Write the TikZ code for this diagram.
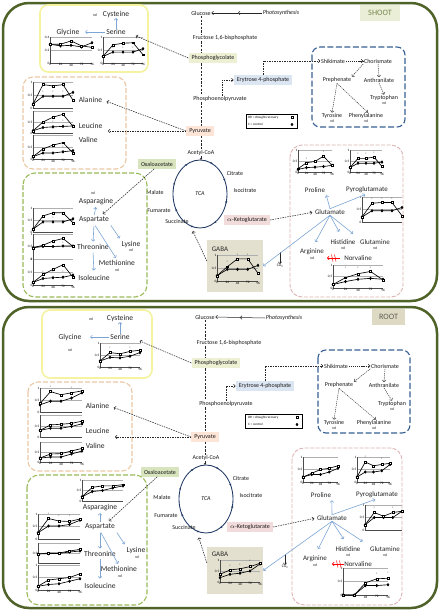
\documentclass[tikz,border=0pt]{standalone}
\usepackage{fontspec}
\setmainfont{Carlito}
\usetikzlibrary{arrows.meta,decorations.markings,plotmarks,calc}
\definecolor{panelc}{RGB}{79,98,40}
\definecolor{shootfill}{RGB}{235,238,215}
\definecolor{shoottxt}{RGB}{118,135,80}
\definecolor{rootfill}{RGB}{221,217,195}
\definecolor{roottxt}{RGB}{95,95,85}
\definecolor{pgfill}{RGB}{238,240,212}
\definecolor{e4fill}{RGB}{220,230,242}
\definecolor{pyfill}{RGB}{252,228,214}
\definecolor{oxfill}{RGB}{215,228,189}
\definecolor{akfill}{RGB}{242,220,219}
\definecolor{gabafill}{RGB}{228,224,208}
\definecolor{yboxc}{RGB}{245,242,160}
\definecolor{oboxc}{RGB}{236,200,165}
\definecolor{gboxc}{RGB}{155,187,89}
\definecolor{pboxc}{RGB}{222,180,180}
\definecolor{bboxc}{RGB}{55,96,146}
\definecolor{arrblue}{RGB}{125,165,212}
\definecolor{tcac}{RGB}{31,56,100}
\definecolor{grdc}{RGB}{175,175,175}
\newcommand\fsm{\fontsize{6}{6.8}\selectfont}
\newcommand\faa{\fontsize{7}{7.8}\selectfont}
\newcommand\fab{\fontsize{7.6}{8.6}\selectfont}
\newcommand\fnd{\fontsize{3.8}{4.2}\selectfont}
\newcommand\ftk{\fontsize{3.4}{3.8}\selectfont}
\newcommand\ftag{\fontsize{8.2}{9}\selectfont}
\newcommand\flg{\fontsize{3.3}{3.7}\selectfont}
\newcommand\mchart[7]{%
  \pgfmathsetmacro\mcxu{#3/96}%
  \begin{scope}[shift={(#1,#2)},x=\mcxu pt,y=#4pt]
    \draw[grd] (0,0.5) -- (96,0.5) (0,1) -- (96,1);
    \draw[axl] (0,1) -- (0,0) -- (96,0);
    \draw[cl] plot coordinates {#6};
    \draw[drl] plot coordinates {#5};
    #7
  \end{scope}}
\newcommand\xlab{\foreach \xv in {0,24,48,72,96}{\node[tk,anchor=north] at (\xv,0) {\xv};}}
\newcommand\ylab[2]{\node[tk,anchor=east] at (0,#1) {#2};}
\newcommand\ystd{\ylab{1}{1}\ylab{0.5}{0.5}\ylab{0}{0}}
\newcommand\astk[2]{\node[astn] at (#1,#2) {*};}
\tikzset{
  >={Straight Barb[length=1.7pt,width=3.6pt]},
  panel/.style={draw=panelc, line width=2.5pt, rounded corners=26pt},
  tagbox/.style={font=\ftag, inner sep=0pt, minimum height=16pt},
  lbl/.style={font=\fsm, inner sep=0.6pt, text=black!90},
  itl/.style={font=\fsm\itshape},
  aa/.style={font=\faa, inner sep=0.6pt, text=black!85},
  aab/.style={font=\fab, inner sep=0.6pt, text=black!85},
  nd/.style={font=\fnd, inner sep=0pt, text=black!85},
  tk/.style={font=\ftk, inner sep=0.5pt},
  astn/.style={font=\ftk, inner sep=0pt},
  lg/.style={font=\flg, inner sep=0pt},
  boxn/.style={font=\fsm, text=black!90, inner xsep=3pt, inner ysep=2.5pt},
  grd/.style={draw=grdc, line width=0.35pt},
  axl/.style={draw=black!70, line width=0.4pt},
  drl/.style={line width=0.65pt, mark=square*, mark size=0.95pt, mark options={fill=white, line width=0.35pt}},
  cl/.style={line width=0.65pt, mark=diamond*, mark size=1.2pt, mark options={fill=black}},
  vline/.style={dash pattern=on 2.2pt off 1.4pt, line width=0.95pt, black!85},
  dline/.style={dash pattern=on 1.5pt off 1pt, line width=0.55pt, black!85, ->},
  dsm/.style={dash pattern=on 1.2pt off 0.9pt, line width=0.45pt, black!85, ->},
  barr/.style={line width=0.6pt, arrblue, ->},
  parr/.style={line width=0.5pt, black!85, ->},
  redar/.style={line width=0.6pt, red, ->},
  ybx/.style={draw=yboxc, line width=1.6pt, rounded corners=8pt},
  obx/.style={draw=oboxc, line width=1.1pt, dash pattern=on 5pt off 2pt, rounded corners=10pt},
  gbx/.style={draw=gboxc, line width=1.1pt, dash pattern=on 5pt off 2pt, rounded corners=12pt},
  pbx/.style={draw=pboxc, line width=0.9pt, dash pattern=on 4pt off 1.5pt, rounded corners=12pt},
  bbx/.style={draw=bboxc, line width=1.1pt, dash pattern=on 6pt off 2.5pt, rounded corners=8pt},
  gabab/.style={fill=gabafill, inner sep=0pt},
  legbox/.style={draw=black, line width=0.4pt, inner sep=0pt, fill=white},
  co/.style={font=\fnd, inner sep=0.3pt},
  tcal/.style={draw=tcac, line width=0.85pt, postaction={decorate},
    decoration={markings,
      mark=at position 0.05 with {\arrow{Stealth[length=2.2pt,width=2.2pt]}},
      mark=at position 0.17 with {\arrow{Stealth[length=2.2pt,width=2.2pt]}},
      mark=at position 0.3 with {\arrow{Stealth[length=2.2pt,width=2.2pt]}},
      mark=at position 0.42 with {\arrow{Stealth[length=2.2pt,width=2.2pt]}},
      mark=at position 0.56 with {\arrow{Stealth[length=2.2pt,width=2.2pt]}},
      mark=at position 0.68 with {\arrow{Stealth[length=2.2pt,width=2.2pt]}},
      mark=at position 0.82 with {\arrow{Stealth[length=2.2pt,width=2.2pt]}},
      mark=at position 0.93 with {\arrow{Stealth[length=2.2pt,width=2.2pt]}}}},
}
\begin{document}
\begin{tikzpicture}[x=1pt,y=-1pt]
\useasboundingbox (0,0) rectangle (440,611);
\fill[white] (0,0) rectangle (440,611);

%================ SHOOT ================
\draw[panel] (3,3) rectangle (437,301);
\node[tagbox, fill=shootfill, text=shoottxt, minimum width=40pt] (stag) at (380,12.5) {SHOOT};
\node[lbl] (sglu) at (201,13) {Glucose};
\node[lbl,itl] (sphoto) at (281,13) {Photosynthesis};
\coordinate (sphm) at (238,13);
\draw[parr] (sphoto.west) -- (sphm);
\draw[parr] (sphm) -- (sglu.east);
\node[lbl] (sfru) at (225,38) {Fructose 1,6-bisphosphate};
\node[boxn, fill=pgfill] (spgly) at (213,58) {Phosphoglycolate};
\node[boxn, fill=e4fill] (se4p) at (263,80) {Erytrose 4-phosphate};
\node[lbl] (spep) at (220,99) {Phosphoenolpyruvate};
\node[boxn, fill=pyfill] (spyr) at (200,131) {Pyruvate};
\node[lbl] (sacoa) at (201,153) {Acetyl-CoA};
\coordinate (sv) at (201,0);
\coordinate (stcatop) at (201,160);
\draw[vline] (sv |- sglu.south) -- (sv |- sfru.north);
\draw[vline] (sv |- sfru.south) -- (sv |- spgly.north);
\draw[vline] (sv |- spgly.south) -- (sv |- spep.north);
\draw[vline] (sv |- spep.south) -- (sv |- spyr.north);
\draw[vline] (sv |- spyr.south) -- (sv |- sacoa.north);
\draw[vline, -{Stealth[length=2pt,width=2.4pt]}] (sv |- sacoa.south) -- (stcatop);
\coordinate (se4x) at (222,0);
\draw[dline] (se4x |- spep.north) |- (se4p.west);
% TCA
\coordinate (stc) at (200,194);
\draw[tcal] (stc) ellipse [x radius=27, y radius=34];
\node[lbl,itl] (stca) at (stc) {TCA};
\node[boxn, fill=oxfill] (soxa) at (157,164) {Oxaloacetate};
\node[lbl] (scit) at (235,173) {Citrate};
\node[lbl] (siso) at (245,190) {Isocitrate};
\node[lbl] (smal) at (155,192) {Malate};
\node[lbl] (sfum) at (159,211) {Fumarate};
\node[lbl] (ssuc) at (177,221) {Succinate};
\node[boxn, fill=akfill] (sakg) at (247,220) {$\alpha$-Ketoglutarate};
% legend
\node[legbox, minimum width=51pt, minimum height=14pt] (sleg) at (271.5,121) {};
\node[lg, anchor=west] (sleg1) at (248,117.5) {DR = drought-recovery};
\node[lg, anchor=west] (sleg2) at (248,124.5) {C = control};
\draw[drl] plot coordinates {(292,117.5)};
\draw[cl] plot coordinates {(292,124.5)};
% shikimate box
\draw[bbx] (312,47) rectangle (405,127);
\node[lbl] (sshk) at (333,61) {Shikimate};
\node[lbl] (scho) at (378,61) {Chorismate};
\node[lbl] (sprp) at (337,80) {Prephenate};
\node[lbl] (sant) at (379,80) {Anthranilate};
\node[lbl] (strp) at (384,98) {Tryptophan};
\node[nd] (sndt) at (384,103.5) {nd};
\node[lbl] (styr) at (332,116) {Tyrosine};
\node[nd] (sndy) at (332,121.5) {nd};
\node[lbl] (sphe) at (366,116) {Phenylalanine};
\node[nd] (sndp) at (366,121.5) {nd};
\draw[dline] (se4p.north) |- (sshk.west);
\draw[dsm] (sshk.east) -- (scho.west);
\draw[dsm] (scho.south west) -- (sprp.north east);
\draw[dsm] (scho.south) -- (sant.north);
\draw[dsm] (sant.south) -- (strp.north);
\draw[dsm] (sprp.south) -- (styr.north);
\draw[dsm] (sprp.south) -- (sphe.60);
% yellow box
\draw[ybx] (40,5) rectangle (148,72);
\node[nd] (sndc) at (95,15) {nd};
\node[aab] (scys) at (116,14) {Cysteine};
\node[aab] (sgly) at (68,32) {Glycine};
\node[aab] (sser) at (116,32) {Serine};
\draw[barr] (sser.north) -- (scys.south);
\draw[barr, shorten >=5pt] (sser.west) -- (sgly.east);
\mchart{50}{63}{42}{26}{(0,0.72) (24,0.72) (48,0.85) (72,0.66) (96,0.6)}{(0,0.72) (24,0.66) (48,0.68) (72,0.62) (96,0.78)}{\xlab\ylab{1}{0.4}\ylab{0.5}{0.2}\ylab{0}{0}}
\mchart{103}{63}{40}{26}{(0,0.25) (24,0.7) (48,0.76) (72,0.78) (96,0.32)}{(0,0.25) (24,0.42) (48,0.42) (72,0.42) (96,0.55)}{\xlab\ystd\astk{24}{0.58}\astk{48}{0.58}\astk{72}{0.58}}
\draw[dline, shorten >=10pt] (spgly.west) -- (sser.east);
% orange box
\draw[obx] (23,77) rectangle (126,169);
\node[aab, anchor=west] (sala) at (78,100) {Alanine};
\node[aab, anchor=west] (sleu) at (78,126) {Leucine};
\node[aab, anchor=west] (sval) at (78,140) {Valine};
\mchart{33}{108}{40}{26}{(0,0.15) (24,0.9) (48,0.85) (72,0.9) (96,0.3)}{(0,0.15) (24,0.45) (48,0.45) (72,0.45) (96,0.6)}{\ystd\astk{24}{0.6}\astk{48}{0.6}\astk{72}{0.6}}
\mchart{33}{133}{40}{22}{(0,0.1) (24,0.5) (48,0.72) (72,0.85) (96,0.3)}{(0,0.1) (24,0.25) (48,0.28) (72,0.3) (96,0.32)}{\ylab{0.5}{0.5}\ylab{0}{0}\astk{24}{0.42}\astk{48}{0.48}\astk{72}{0.52}}
\mchart{33}{159}{40}{24}{(0,0.1) (24,0.42) (48,0.58) (72,0.68) (96,0.25)}{(0,0.1) (24,0.25) (48,0.25) (72,0.3) (96,0.35)}{\xlab\ylab{0.5}{0.5}\ylab{0}{0}\astk{24}{0.38}\astk{48}{0.45}\astk{72}{0.5}}
\coordinate (slv) at (108,0);
\draw[dline, shorten >=4pt] (spyr.west) -- (sala.east);
\draw[dline] (spyr.west) -- (spyr.west -| slv);
% green box
\draw[gbx] (23,173) rectangle (147,297);
\node[nd] (snda) at (93,193) {nd};
\node[aab] (sasn) at (96,202) {Asparagine};
\node[aab] (sasp) at (94,220) {Aspartate};
\node[aab] (sthr) at (93,247) {Threonine};
\node[aab] (slys) at (131,244) {Lysine};
\node[nd] (sndl) at (131,250.5) {nd};
\node[aab] (smet) at (117,263) {Methionine};
\node[nd] (sndm) at (117,270) {nd};
\node[aab] (sile) at (94,278) {Isoleucine};
\draw[barr, shorten >=1pt, shorten <=1pt] (sasp.north) -- (sasn.south);
\draw[barr, shorten >=2pt, shorten <=2pt] (sasp.south) -- (sthr.north);
\draw[barr, shorten >=2pt, shorten <=2pt] (sasp.south east) -- (slys.north west);
\draw[barr, shorten >=2pt, shorten <=2pt] (sasp.south) -- (smet.north);
\draw[barr, shorten >=4pt, shorten <=2pt] (sthr.south) -- (sile.north);
\mchart{33}{232}{40}{24}{(0,0.12) (24,0.67) (48,0.8) (72,0.8) (96,0.38)}{(0,0.12) (24,0.42) (48,0.42) (72,0.42) (96,0.55)}{\ystd\astk{24}{0.58}\astk{48}{0.58}}
\mchart{33}{259}{40}{25}{(0,0.45) (24,0.55) (48,0.72) (72,0.82) (96,0.5)}{(0,0.45) (24,0.5) (48,0.5) (72,0.52) (96,0.52)}{\ystd\astk{48}{0.62}\astk{72}{0.64}}
\mchart{33}{285}{40}{26}{(0,0.1) (24,0.4) (48,0.6) (72,0.78) (96,0.3)}{(0,0.1) (24,0.25) (48,0.28) (72,0.3) (96,0.38)}{\xlab\ystd\astk{24}{0.48}\astk{48}{0.5}\astk{72}{0.5}}
\draw[dline, shorten >=3pt] (soxa.240) -- (sasp.30);
% GABA
\node[gabab, minimum width=56pt, minimum height=52pt] (sgaba) at (235,266) {};
\node[aa, anchor=west] (sgabl) at (211,249) {GABA};
\mchart{217}{281}{41}{26}{(0,0.2) (24,0.55) (48,0.85) (72,0.85) (96,0.3)}{(0,0.2) (24,0.45) (48,0.45) (72,0.45) (96,0.6)}{\xlab\ystd\astk{24}{0.72}\astk{48}{0.97}\astk{72}{0.97}}
\draw[dline, shorten >=8pt] (sgaba.170) -- (ssuc.south east);
\node[co] (sco2) at (280,266) {CO\textsubscript{2}};
\coordinate (sco2t) at (280,252);
\draw[parr, line width=0.4pt] (sco2t) -- (sco2.north);
% pink box
\draw[pbx] (290,145) rectangle (403,297);
\node[aa] (spro) at (315,190) {Proline};
\node[aa] (spyg) at (367,190) {Pyroglutamate};
\node[aa] (sglt) at (330,212) {Glutamate};
\node[aa] (shis) at (343,242) {Histidine};
\node[nd] (sndh) at (343,248) {nd};
\node[aa] (sgln) at (375,242) {Glutamine};
\node[nd] (sndg) at (375,248) {nd};
\node[aa] (sarg) at (312,252) {Arginine};
\node[nd] (sndr) at (312,258) {nd};
\node[aa] (snor) at (358,258) {Norvaline};
\coordinate (snr1) at (340,258);
\coordinate (snr2) at (327,258);
\draw[redar] (snr1) -- (snr2);
\draw[red, line width=0.5pt] (331.5,254.5) -- (333,261.5) (334.5,254.5) -- (336,261.5);
\mchart{298}{172}{34}{22}{(0,0.15) (24,0.42) (48,0.48) (72,0.72) (96,0.3)}{(0,0.12) (24,0.2) (48,0.22) (72,0.25) (96,0.3)}{\xlab\ystd\astk{24}{0.6}\astk{72}{0.88}}
\mchart{350}{172}{32}{22}{(0,0.2) (24,0.62) (48,0.62) (72,0.68) (96,0.25)}{(0,0.2) (24,0.4) (48,0.4) (72,0.4) (96,0.45)}{\xlab\ystd\astk{24}{0.8}\astk{48}{0.8}\astk{72}{0.85}}
\mchart{362}{222}{40}{25}{(0,0.2) (24,0.75) (48,0.78) (72,0.78) (96,0.25)}{(0,0.2) (24,0.45) (48,0.45) (72,0.45) (96,0.58)}{\ystd\astk{24}{0.9}\astk{48}{0.9}\astk{72}{0.9}}
\mchart{333}{288}{50}{23}{(0,0.15) (24,0.45) (48,0.62) (72,0.72) (96,0.35)}{(0,0.15) (24,0.28) (48,0.38) (72,0.42) (96,0.38)}{\xlab\ystd\astk{24}{0.85}\astk{48}{0.85}\astk{72}{0.85}}
\draw[dline, shorten >=2pt] (sakg.east) -- (sglt.west);
\draw[barr, shorten >=2pt] (sglt.north) -- (spro.south east);
\draw[barr, shorten >=2pt] (sglt.north) -- (spyg.south);
\draw[barr, shorten >=8pt] (sglt.south) -- (shis.north);
\draw[barr, shorten >=8pt] (sglt.south) -- (sgln.north west);
\draw[barr, shorten >=7pt] (sglt.south) -- (sarg.north);
\draw[barr] (sglt.south) -- (sgaba.east);

%================ ROOT ================
\draw[panel] (3,307) rectangle (437,608);
\node[tagbox, fill=rootfill, text=roottxt, minimum width=33pt] (rtag) at (388.5,317) {ROOT};
\node[lbl] (rglu) at (205,317) {Glucose};
\node[lbl,itl] (rphoto) at (284,318) {Photosynthesis};
\coordinate (rphm) at (240,317.5);
\draw[parr] (rphoto.west) -- (rphm);
\draw[parr] (rphm) -- (rglu.east);
\node[lbl] (rfru) at (229,343) {Fructose 1,6-bisphosphate};
\node[boxn, fill=pgfill] (rpgly) at (216,363) {Phosphoglycolate};
\node[boxn, fill=e4fill] (re4p) at (265,386) {Erytrose 4-phosphate};
\node[lbl] (rpep) at (226,404) {Phosphoenolpyruvate};
\node[boxn, fill=pyfill] (rpyr) at (205,437) {Pyruvate};
\node[lbl] (racoa) at (206,458) {Acetyl-CoA};
\coordinate (rv) at (205,0);
\coordinate (rtcatop) at (205,465);
\draw[vline] (rv |- rglu.south) -- (rv |- rfru.north);
\draw[vline] (rv |- rfru.south) -- (rv |- rpgly.north);
\draw[vline] (rv |- rpgly.south) -- (rv |- rpep.north);
\draw[vline] (rv |- rpep.south) -- (rv |- rpyr.north);
\draw[vline] (rv |- rpyr.south) -- (rv |- racoa.north);
\draw[vline, -{Stealth[length=2pt,width=2.4pt]}] (rv |- racoa.south) -- (rtcatop);
\coordinate (re4x) at (226,0);
\draw[dline] (re4x |- rpep.north) |- (re4p.west);
% TCA
\coordinate (rtc) at (206,499);
\draw[tcal] (rtc) ellipse [x radius=27, y radius=34];
\node[lbl,itl] (rtca) at (rtc) {TCA};
\node[boxn, fill=oxfill] (roxa) at (160,472) {Oxaloacetate};
\node[lbl] (rcit) at (241,478) {Citrate};
\node[lbl] (riso) at (251,495) {Isocitrate};
\node[lbl] (rmal) at (162,497) {Malate};
\node[lbl] (rfum) at (166,516) {Fumarate};
\node[lbl] (rsuc) at (184,527) {Succinate};
\node[boxn, fill=akfill] (rakg) at (250,527) {$\alpha$-Ketoglutarate};
% legend
\node[legbox, minimum width=57pt, minimum height=14pt] (rleg) at (273.5,421) {};
\node[lg, anchor=west] (rleg1) at (248,417.5) {DR = drought-recovery};
\node[lg, anchor=west] (rleg2) at (248,424.5) {C = control};
\draw[drl] plot coordinates {(297,417.5)};
\draw[cl] plot coordinates {(297,424.5)};
% shikimate box
\draw[bbx] (318,350) rectangle (410,433);
\node[lbl] (rshk) at (336,366) {Shikimate};
\node[lbl] (rcho) at (385,366) {Chorismate};
\node[lbl] (rprp) at (339,385) {Prephenate};
\node[lbl] (rant) at (384,385) {Anthranilate};
\node[lbl] (rtrp) at (392,404) {Tryptophan};
\node[nd] (rndt) at (392,409.5) {nd};
\node[lbl] (rtyr) at (334,423) {Tyrosine};
\node[nd] (rndy) at (334,428.5) {nd};
\node[lbl] (rphe) at (374,423) {Phenylalanine};
\node[nd] (rndp) at (374,428.5) {nd};
\draw[dline] (re4p.north) |- (rshk.west);
\draw[dsm] (rshk.east) -- (rcho.west);
\draw[dsm] (rcho.south west) -- (rprp.north east);
\draw[dsm] (rcho.south) -- (rant.north);
\draw[dsm] (rant.south) -- (rtrp.north);
\draw[dsm] (rprp.south) -- (rtyr.north);
\draw[dsm] (rprp.south) -- (rphe.60);
% yellow box
\draw[ybx] (42,310) rectangle (152,378);
\node[nd] (rndc) at (91,319) {nd};
\node[aab] (rcys) at (120,318) {Cysteine};
\node[aab] (rgly) at (70,337) {Glycine};
\node[nd] (rndg) at (70,350) {nd};
\node[aab] (rser) at (120,337) {Serine};
\draw[barr] (rser.north) -- (rcys.south);
\draw[barr, shorten >=8pt] (rser.west) -- (rgly.east);
\mchart{100}{367}{40}{24}{(0,0.25) (24,0.6) (48,0.55) (72,0.65) (96,0.7)}{(0,0.25) (24,0.4) (48,0.38) (72,0.45) (96,0.6)}{\xlab\ystd\astk{24}{0.78}\astk{72}{0.8}}
\draw[dline, shorten >=10pt] (rpgly.west) -- (rser.east);
% orange box
\draw[obx] (28,382) rectangle (132,471);
\node[aab, anchor=west] (rala) at (85,406) {Alanine};
\node[aab, anchor=west] (rleu) at (85,431) {Leucine};
\node[aab, anchor=west] (rval) at (85,446) {Valine};
\mchart{40}{412}{42}{24}{(0,0.35) (24,0.85) (48,0.72) (72,0.8) (96,0.88)}{(0,0.3) (24,0.45) (48,0.45) (72,0.58) (96,0.8)}{\ystd\astk{24}{1.02}\astk{72}{1.0}}
\mchart{40}{437}{42}{22}{(0,0.3) (24,0.55) (48,0.58) (72,0.62) (96,0.72)}{(0,0.3) (24,0.4) (48,0.4) (72,0.48) (96,0.6)}{\ylab{0.5}{0.5}\ylab{0}{0}}
\mchart{40}{462}{42}{20}{(0,0.2) (24,0.4) (48,0.42) (72,0.55) (96,0.68)}{(0,0.2) (24,0.25) (48,0.25) (72,0.4) (96,0.55)}{\xlab\ylab{0.5}{0.5}\ylab{0}{0}}
\coordinate (rlv) at (115,0);
\draw[dline, shorten >=4pt] (rpyr.west) -- (rala.east);
\draw[dline] (rpyr.west) -- (rpyr.west -| rlv);
% green box
\draw[gbx] (27,475) rectangle (147,605);
\node[aab] (rasn) at (100,508) {Asparagine};
\node[aab] (rasp) at (100,527) {Aspartate};
\node[aab] (rthr) at (100,554) {Threonine};
\node[aab] (rlys) at (136,550) {Lysine};
\node[nd] (rndl) at (137,557) {nd};
\node[aab] (rmet) at (119,569) {Methionine};
\node[nd] (rndm) at (120,576.5) {nd};
\node[aab] (rile) at (100,586) {Isoleucine};
\draw[barr, shorten >=1pt, shorten <=1pt] (rasp.north) -- (rasn.south);
\draw[barr, shorten >=2pt, shorten <=2pt] (rasp.south) -- (rthr.north);
\draw[barr, shorten >=2pt, shorten <=2pt] (rasp.south east) -- (rlys.north west);
\draw[barr, shorten >=2pt, shorten <=2pt] (rasp.south) -- (rmet.north);
\draw[barr, shorten >=4pt, shorten <=2pt] (rthr.south) -- (rile.north);
\mchart{82}{501}{41}{21}{(0,0.2) (24,0.65) (48,0.72) (72,0.72) (96,0.78)}{(0,0.2) (24,0.45) (48,0.5) (72,0.62) (96,0.72)}{\ystd}
\mchart{38}{539}{42}{25}{(0,0.25) (24,0.82) (48,0.72) (72,0.7) (96,0.8)}{(0,0.25) (24,0.52) (48,0.52) (72,0.58) (96,0.75)}{\ystd\astk{24}{0.98}\astk{48}{0.9}\astk{72}{0.9}}
\mchart{38}{563}{42}{20}{(0,0.45) (24,0.5) (48,0.5) (72,0.6) (96,0.68)}{(0,0.45) (24,0.47) (48,0.48) (72,0.55) (96,0.6)}{\ylab{0.5}{0.5}}
\mchart{38}{590}{42}{25}{(0,0.15) (24,0.4) (48,0.45) (72,0.5) (96,0.65)}{(0,0.15) (24,0.22) (48,0.25) (72,0.35) (96,0.45)}{\xlab\ystd}
\draw[dline, shorten >=3pt] (roxa.240) -- (rasp.30);
% GABA
\node[gabab, minimum width=56pt, minimum height=47pt] (rgaba) at (235,570.5) {};
\node[aa, anchor=west] (rgabl) at (211,554) {GABA};
\mchart{220}{582}{40}{22}{(0,0.35) (24,0.55) (48,0.6) (72,0.7) (96,0.85)}{(0,0.2) (24,0.35) (48,0.4) (72,0.5) (96,0.82)}{\xlab\ystd\astk{24}{0.72}\astk{48}{0.78}\astk{72}{0.92}}
\draw[dline, shorten >=8pt] (rgaba.165) -- (rsuc.south east);
\node[co] (rco2) at (285,567) {CO\textsubscript{2}};
\coordinate (rco2t) at (285,554);
\draw[parr, line width=0.4pt] (rco2t) -- (rco2.north);
% pink box
\draw[pbx] (292,448) rectangle (402,605);
\node[aa] (rpro) at (321,495) {Proline};
\node[aa] (rpyg) at (377,495) {Pyroglutamate};
\node[aa] (rglt) at (332,518) {Glutamate};
\node[aa] (rhis) at (348,549) {Histidine};
\node[nd] (rndh) at (348,555) {nd};
\node[aa] (rgln) at (385,549) {Glutamine};
\node[nd] (rndq) at (385,555) {nd};
\node[aa] (rarg) at (315,559) {Arginine};
\node[nd] (rndr) at (315,565.5) {nd};
\node[aa] (rnor) at (358,564) {Norvaline};
\coordinate (rnr1) at (344,564);
\coordinate (rnr2) at (332,564);
\draw[redar] (rnr1) -- (rnr2);
\draw[red, line width=0.5pt] (336.5,560.5) -- (338,567.5) (339.5,560.5) -- (341,567.5);
\mchart{303}{482}{35}{25}{(0,0.2) (24,0.35) (48,0.5) (72,0.55) (96,0.65)}{(0,0.2) (24,0.3) (48,0.3) (72,0.4) (96,0.55)}{\xlab\ystd}
\mchart{357}{482}{33}{25}{(0,0.2) (24,0.8) (48,0.65) (72,0.7) (96,0.75)}{(0,0.2) (24,0.4) (48,0.4) (72,0.45) (96,0.7)}{\xlab\ystd\astk{24}{0.97}\astk{72}{0.92}}
\mchart{365}{530}{37}{25}{(0,0.2) (24,0.7) (48,0.55) (72,0.7) (96,0.75)}{(0,0.2) (24,0.5) (48,0.5) (72,0.5) (96,0.75)}{\ystd\astk{24}{0.88}\astk{72}{0.88}}
\mchart{343}{595}{45}{27}{(0,0) (24,0) (48,0.45) (72,0.6) (96,0.62)}{(0,0) (24,0) (48,0.35) (72,0.35) (96,0.38)}{\xlab\ystd\astk{72}{0.75}\astk{96}{0.8}}
\draw[dline, shorten >=2pt] (rakg.east) -- (rglt.west);
\draw[barr, shorten >=2pt] (rglt.north) -- (rpro.south east);
\draw[barr, shorten >=2pt] (rglt.north) -- (rpyg.south);
\draw[barr, shorten >=8pt] (rglt.south) -- (rhis.north);
\draw[barr, shorten >=8pt] (rglt.south) -- (rgln.north west);
\draw[barr, shorten >=7pt] (rglt.south) -- (rarg.north);
\draw[barr] (rglt.south) -- (rgaba.east);
\end{tikzpicture}
\end{document}
